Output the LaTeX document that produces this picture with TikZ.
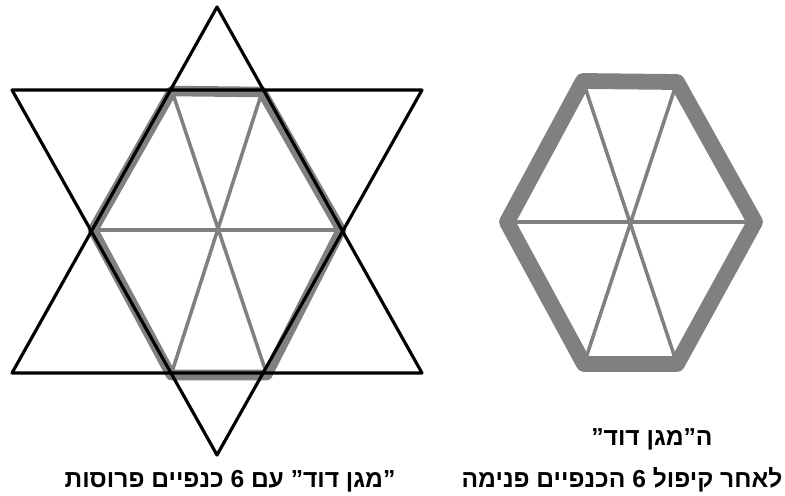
\documentclass[tikz,border=0pt]{standalone}
\usepackage{fontspec}
\newfontfamily\hebfont[Script=Hebrew]{Liberation Sans}
\TeXXeTstate=1

\begin{document}
\begin{tikzpicture}[line cap=round,line join=round,x=0.02cm,y=-0.02cm,
	trait/.style={line width=1.8pt,black},
	bord/.style={line width=6pt,gray},
	bordepais/.style={line width=9pt,gray},
	rayon/.style={line width=2pt,gray},
	legende/.style={font=\hebfont\bfseries\fontsize{14}{14}\selectfont,inner sep=0pt}]
		\useasboundingbox (0,0) rectangle (785,495);
		% sommets des deux triangles
		\coordinate (H) at (217,7);
		\coordinate (HG) at (12,373);
		\coordinate (HD) at (422,373);
		\coordinate (B) at (217,455);
		\coordinate (BG) at (12,90);
		\coordinate (BD) at (422,90);
		% hexagone de gauche
		\coordinate (g1) at (172,91);
		\coordinate (g2) at (262,92);
		\coordinate (g3) at (341,230);
		\coordinate (g4) at (267,375);
		\coordinate (g5) at (171,375);
		\coordinate (g6) at (93,230);
		% hexagone de droite
		\coordinate (d1) at (583,81);
		\coordinate (d2) at (677,82);
		\coordinate (d3) at (755,222);
		\coordinate (d4) at (677,364);
		\coordinate (d5) at (584,364);
		\coordinate (d6) at (507,222);
		% rayons
		\draw[rayon] (g1) -- (g4);
		\draw[rayon] (g2) -- (g5);
		\draw[rayon] (g6) -- (g3);
		\draw[rayon] (d1) -- (d4);
		\draw[rayon] (d2) -- (d5);
		\draw[rayon] (d6) -- (d3);
		% bords gris
		\draw[bord] (g1) -- (g2) -- (g3) -- (g4) -- (g5) -- (g6) -- cycle;
		\draw[bordepais] (d1) -- (d2) -- (d3) -- (d4) -- (d5) -- (d6) -- cycle;
		% etoile
		\draw[trait] (H) -- (HD) -- (HG) -- cycle;
		\draw[trait] (B) -- (BG) -- (BD) -- cycle;
		% legendes
		\node[legende] (legG) at (230,481) {\beginR ”מגן דוד” עם 6 כנפיים פרוסות\endR};
		\node[legende] (legD1) at (652,439) {\beginR ה”מגן דוד”\endR};
		\node[legende] (legD2) at (622,480) {\beginR לאחר קיפול 6 הכנפיים פנימה\endR};
\end{tikzpicture}
\end{document}
